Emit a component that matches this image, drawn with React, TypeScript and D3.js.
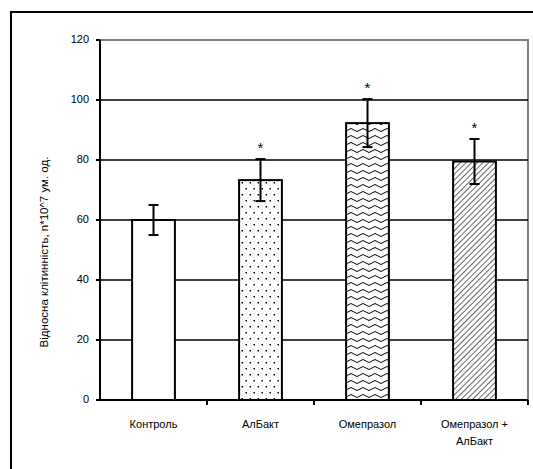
import React from 'react';
import * as d3 from 'd3';

const width = 533;
const height = 469;
const margin = {top: 40, right: 5, bottom: 69, left: 100};

const categories = ['Контроль', 'АлБакт', 'Омепразол', 'Омепразол + АлБакт'];
const labelLines = [['Контроль'], ['АлБакт'], ['Омепразол'], ['Омепразол +', 'АлБакт']];
const values = [60, 73.3, 92.3, 79.5];
const errors = [5, 7, 8, 7.5];
const significant = [false, true, true, true];
const fills = ['#ffffff', 'url(#dots)', 'url(#waves)', 'url(#hatch)'];
const yTicks = [0, 20, 40, 60, 80, 100, 120];
const yTitle = 'Відносна клітинність, n*10^7 ум. од.';

const font = "'Liberation Sans', Arial, sans-serif";

export default function App() {
    const x = d3.scaleBand<string>()
        .domain(categories)
        .range([margin.left, width - margin.right])
        .paddingInner(0.6)
        .paddingOuter(0.3);
    const y = d3.scaleLinear().domain([0, 120]).range([height - margin.bottom, margin.top]);
    const bw = x.bandwidth();
    const step = x.step();
    const x0 = margin.left;
    const x1 = width - margin.right;
    const y0 = y(0);

    return (
        <svg width={width} height={height} style={{position: 'absolute', left: 0, top: 0, background: '#fff'}}>
            <defs>
                <pattern id='dots' width='8' height='12' patternUnits='userSpaceOnUse'>
                    <rect width='8' height='12' fill='#fff'/>
                    <rect x='1.5' y='2' width='1.5' height='1.5' fill='#000'/>
                    <rect x='5.5' y='8' width='1.5' height='1.5' fill='#000'/>
                </pattern>
                <pattern id='waves' width='12' height='7' patternUnits='userSpaceOnUse'>
                    <rect width='12' height='7' fill='#fff'/>
                    <path d='M0 4 Q3 1 6 4 T12 4' fill='none' stroke='#000' strokeWidth='1'/>
                </pattern>
                <pattern id='hatch' width='4' height='4' patternUnits='userSpaceOnUse' patternTransform='rotate(45)'>
                    <rect width='4' height='4' fill='#fff'/>
                    <line x1='0' y1='0' x2='0' y2='4' stroke='#000' strokeWidth='1.2'/>
                </pattern>
            </defs>

            {/* outer frame */}
            <path d={`M11 ${height} V12 H${width}`} fill='none' stroke='#000' strokeWidth='2'/>

            {/* plot border (top, right) */}
            <path d={`M${x0} ${y(120)} H${x1} V${y0}`} fill='none' stroke='#808080' strokeWidth='2'/>

            {/* gridlines */}
            {yTicks.filter(t => t > 0 && t < 120).map(t => (
                <line key={t} x1={x0} x2={x1} y1={y(t)} y2={y(t)} stroke='#000' strokeWidth='1.6'/>
            ))}

            {/* bars */}
            {categories.map((c, i) => (
                <rect key={c} x={x(c)} y={y(values[i])} width={bw} height={y0 - y(values[i])}
                      fill={fills[i]} stroke='#000' strokeWidth='2'/>
            ))}

            {/* error bars */}
            {categories.map((c, i) => {
                const cx = (x(c) as number) + bw / 2;
                const hi = y(values[i] + errors[i]);
                const lo = y(values[i] - errors[i]);
                return (
                    <g key={c} stroke='#000' strokeWidth='2'>
                        <line x1={cx} x2={cx} y1={hi} y2={lo}/>
                        <line x1={cx - 5} x2={cx + 5} y1={hi} y2={hi}/>
                        <line x1={cx - 5} x2={cx + 5} y1={lo} y2={lo}/>
                    </g>
                );
            })}

            {/* significance marks */}
            {categories.map((c, i) => significant[i] ? (
                <text key={c} x={(x(c) as number) + bw / 2} y={y(values[i] + errors[i]) - 10}
                      textAnchor='middle' fontFamily={font} fontSize='15' dominantBaseline='middle'>*</text>
            ) : null)}

            {/* axes */}
            <line x1={x0} x2={x0} y1={y(120)} y2={y0} stroke='#000' strokeWidth='2'/>
            <line x1={x0} x2={x1} y1={y0} y2={y0} stroke='#000' strokeWidth='2'/>
            {yTicks.map(t => (
                <g key={t}>
                    <line x1={x0 - 4} x2={x0} y1={y(t)} y2={y(t)} stroke='#000' strokeWidth='2'/>
                    <text x={x0 - 11} y={y(t)} textAnchor='end' dominantBaseline='middle'
                          fontFamily={font} fontSize='11' fill='#000'>{t}</text>
                </g>
            ))}
            {categories.map((c, i) => (
                <line key={c} x1={x0 + step * (i + 1)} x2={x0 + step * (i + 1)} y1={y0} y2={y0 + 5}
                      stroke='#000' strokeWidth='2'/>
            ))}
            {categories.map((c, i) => (
                <text key={c} x={(x(c) as number) + bw / 2} y={y0 + 28} textAnchor='middle'
                      fontFamily={font} fontSize='11' fill='#000'>
                    {labelLines[i].map((l, j) => (
                        <tspan key={j} x={(x(c) as number) + bw / 2} dy={j === 0 ? 0 : 17}>{l}</tspan>
                    ))}
                </text>
            ))}

            {/* y title */}
            <text transform={`translate(45, ${(y(120) + y0) / 2 + 32}) rotate(-90)`} textAnchor='middle'
                  dominantBaseline='middle' fontFamily={font} fontSize='11.5' fill='#000'>{yTitle}</text>
        </svg>
    );
}
